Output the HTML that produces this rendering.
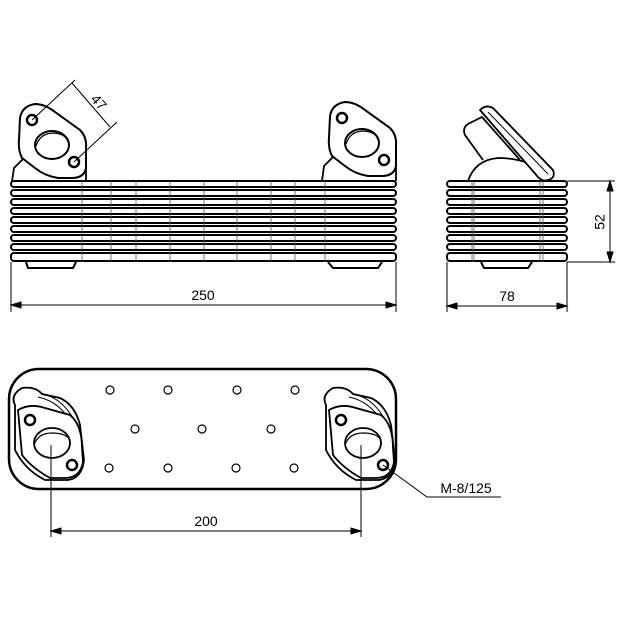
<!DOCTYPE html>
<html><head><style>body{margin:0;background:#fff}svg{display:block}</style></head><body>
<svg width="622" height="622" viewBox="0 0 622 622" xmlns="http://www.w3.org/2000/svg" font-family="Liberation Sans, sans-serif">
<defs>
<g id="fl">
<path d="M20,118 Q22,106 35,104 Q45,104 55,112 L80,130 Q87,137 86,148 L86,168 Q84,178 72,178 L58,178 Q45,176 35,168 L22,158 Q18,150 19,140 Z" fill="#fff" stroke="#000" stroke-width="2"/>
<ellipse cx="52" cy="145" rx="17" ry="14" fill="#fff" stroke="#000" stroke-width="2"/>
<path d="M36,146 Q40,133 54,133 Q66,134 68,142" fill="none" stroke="#000" stroke-width="1.3"/>
<circle cx="32" cy="120" r="5" fill="#fff" stroke="#000" stroke-width="2.5"/>
<circle cx="74" cy="162" r="5" fill="#fff" stroke="#000" stroke-width="2.5"/>
</g>
</defs>
<g stroke="#000" fill="none">
<path d="M12,181 L14,168 L24,158 M86,160 L86,181" stroke-width="1.8"/>
<use href="#fl"/>
<g transform="translate(310,-2)">
<path d="M12,183 L14,168 L24,158 M86,160 L86,183" stroke-width="1.8"/>
<use href="#fl"/>
</g>
<g stroke-width="2">
<rect x="11" y="181" width="385" height="6" rx="3"/>
<rect x="11" y="190" width="385" height="6" rx="3"/>
<rect x="11" y="199" width="385" height="6" rx="3"/>
<rect x="11" y="208" width="385" height="6" rx="3"/>
<rect x="11" y="217" width="385" height="6" rx="3"/>
<rect x="11" y="226" width="385" height="6" rx="3"/>
<rect x="11" y="235" width="385" height="6" rx="3"/>
<rect x="11" y="244" width="385" height="6" rx="3"/>
<rect x="11" y="253" width="385" height="8" rx="3"/>
<path d="M26,262 L28,268 L73,268 L76,262 M328,262 L333,268 L378,268 L382,262"/>
</g>
<path d="M82,181 V262 M111,181 V262 M136,181 V262 M170,181 V262 M204,181 V262 M237,181 V262 M271,181 V262 M295,181 V262 M325,181 V262" stroke-width="0.8" stroke="#555"/>
<path d="M11,262 V312 M396,262 V312 M11,305 H396" stroke-width="1"/>
<path d="M11,305 l10,-3 v6 z M396,305 l-10,-3 v6 z" fill="#000"/>
<path d="M32,120 L75,80 M74,162 L117,122 M72,83 L110,127" stroke-width="1"/>
<g stroke-width="1.8">
<path d="M468,181 Q475,160 498,158 Q525,158 545,172"/>
<path d="M483,160 L465,135 Q462,128 468,124 L482,117 L520,160"/>
<path d="M480,110 Q486,104 493,108 L553,170 Q556,178 548,180 Q543,182 538,177 Z" fill="#fff"/>
<path d="M488,112 L548,174" stroke-width="1"/>
</g>
<g stroke-width="2">
<rect x="447" y="181" width="120" height="6" rx="3"/>
<rect x="447" y="190" width="120" height="6" rx="3"/>
<rect x="447" y="199" width="120" height="6" rx="3"/>
<rect x="447" y="208" width="120" height="6" rx="3"/>
<rect x="447" y="217" width="120" height="6" rx="3"/>
<rect x="447" y="226" width="120" height="6" rx="3"/>
<rect x="447" y="235" width="120" height="6" rx="3"/>
<rect x="447" y="244" width="120" height="6" rx="3"/>
<rect x="447" y="253" width="120" height="8" rx="3"/>
<path d="M481,262 L484,268 L528,268 L532,262"/>
</g>
<path d="M472,181 V262 M474,181 V262 M540,181 V262 M543,181 V262" stroke-width="0.8" stroke="#555"/>
<path d="M567,181 H615 M567,262 H615 M610,181 V262 M447,262 V312 M567,262 V312 M447,306 H567" stroke-width="1"/>
<path d="M610,181 l-3,10 h6 z M610,262 l-3,-10 h6 z M447,306 l10,-3 v6 z M567,306 l-10,-3 v6 z" fill="#000"/>
<rect x="9" y="369" width="387" height="120" rx="30" stroke-width="2.5"/>
<g stroke-width="1.2">
<circle cx="110" cy="390" r="4"/><circle cx="168" cy="390" r="4"/><circle cx="237" cy="390" r="4"/><circle cx="295" cy="390" r="4"/>
<circle cx="135" cy="429" r="4"/><circle cx="202" cy="429" r="4"/><circle cx="271" cy="429" r="4"/>
<circle cx="109" cy="468" r="4"/><circle cx="168" cy="468" r="4"/><circle cx="236" cy="468" r="4"/><circle cx="294" cy="468" r="4"/>
</g>
<g id="bf" stroke-width="1.8">
<path d="M15,405 Q10,395 22,388 Q35,386 42,394 L60,398 Q75,405 80,425 L84,460 Q82,478 68,480 L45,480 Q25,470 15,450 Z" fill="#fff"/>
<path d="M42,394 Q65,398 78,428 M38,397 Q62,402 74,428" stroke-width="1"/>
<path d="M18,410 Q30,403 45,408 L70,415 Q82,425 82,448 L83,462 Q80,478 65,478 L50,478 Q32,468 22,455 Z" fill="#fff"/>
<ellipse cx="52" cy="443" rx="18" ry="15" fill="#fff"/>
<path d="M34,445 Q38,433 52,433 Q66,433 70,440" stroke-width="1.2"/>
<circle cx="30" cy="420" r="5" stroke-width="2.5"/>
<circle cx="72" cy="465" r="5" stroke-width="2.5"/>
</g>
<use href="#bf" transform="translate(311,0)"/>
<path d="M51,445 V537 M361,445 V537 M51,531 H361" stroke-width="1"/>
<path d="M51,531 l10,-3 v6 z M361,531 l-10,-3 v6 z" fill="#000"/>
<path d="M383,465 L427,497 H501" stroke-width="1"/>
</g>
<g font-size="14" fill="#000" text-anchor="middle">
<text x="203" y="300">250</text>
<text x="507" y="301">78</text>
<text x="206" y="526">200</text>
<text x="601" y="222" transform="rotate(-90 601 222)" dominant-baseline="middle">52</text>
<text x="98" y="103" transform="rotate(48 98 103)" dominant-baseline="middle">47</text>
<text x="466" y="493">M-8/125</text>
</g>
</svg>
</body></html>
